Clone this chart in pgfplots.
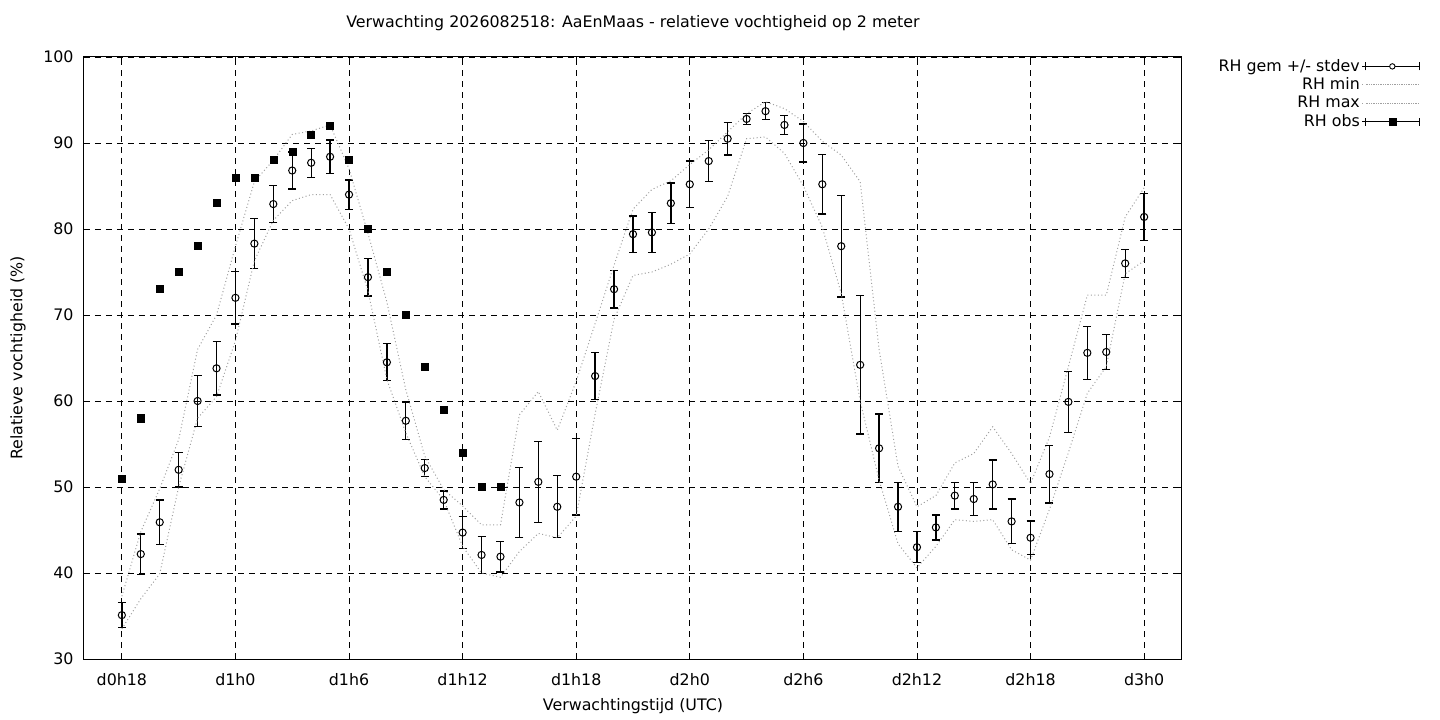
\documentclass[border=0pt]{standalone}
\usepackage{fontspec}
\setmainfont{DejaVu Sans}
\usepackage{pgfplots}
\pgfplotsset{compat=1.18}
\usepackage{pgfplotstable}

\pgfplotstableread{
h m sd
18 35.1 1.45
19 42.2 2.35
20 45.9 2.6
21 52.0 2.0
22 60.0 3.0
23 63.8 3.1
24 72.0 3.05
25 78.3 2.9
26 82.9 2.15
27 86.8 2.15
28 87.7 1.7
29 88.4 1.95
30 84.0 1.7
31 74.4 2.2
32 64.5 2.15
33 57.7 2.2
34 52.2 1.0
35 48.5 1.05
36 44.7 1.85
37 42.1 2.15
38 41.9 1.8
39 48.2 4.1
40 50.6 4.7
41 47.7 3.6
42 51.2 4.45
43 62.9 2.75
44 73.0 2.2
45 79.4 2.1
46 79.6 2.3
47 83.0 2.35
48 85.2 2.7
49 87.9 2.4
50 90.5 1.9
51 92.8 0.65
52 93.7 1.0
53 92.1 1.1
54 90.0 2.2
55 85.2 3.45
56 78.0 5.9
57 64.2 8.05
58 54.5 4.0
59 47.7 2.85
60 43.0 1.8
61 45.3 1.45
62 49.0 1.55
63 48.6 1.95
64 50.3 2.85
65 46.0 2.6
66 44.1 1.95
67 51.5 3.35
68 59.9 3.55
69 65.6 3.1
70 65.7 2.05
71 76.0 1.65
72 81.4 2.75
}\meantab

\pgfplotstableread{
h lo hi
18 33.5 37.3
19 37.0 44.8
20 39.9 49.8
21 50.0 55.5
22 58.0 66.0
23 60.5 70.0
24 67.0 78.0
25 76.3 85.5
26 81.0 88.0
27 83.3 91.0
28 84.0 91.4
29 84.0 92.1
30 80.0 87.0
31 72.8 79.5
32 62.5 71.5
33 56.3 61.3
34 51.2 53.6
35 48.5 49.7
36 43.1 47.8
37 40.0 45.6
38 39.5 45.6
39 42.5 58.4
40 44.6 61.1
41 44.1 56.6
42 46.6 62.3
43 58.5 69.0
44 69.5 75.8
45 74.6 82.3
46 75.0 84.6
47 75.9 85.6
48 77.1 87.5
49 80.0 89.2
50 83.8 91.3
51 90.5 93.4
52 90.7 94.8
53 88.8 94.0
54 85.0 92.5
55 80.2 90.2
56 72.5 88.6
57 60.0 85.5
58 50.8 66.0
59 43.4 52.4
60 40.6 47.7
61 43.1 49.0
62 46.2 52.8
63 46.0 53.9
64 46.2 57.0
65 42.7 53.9
66 41.5 50.4
67 47.4 55.8
68 54.0 64.0
69 60.9 72.3
70 64.0 72.3
71 74.8 81.4
72 76.3 84.8
}\mmtab

\pgfplotstableread{
h o
18 51
19 58
20 73
21 75
22 78
23 83
24 86
25 86
26 88
27 89
28 91
29 92
30 88
31 80
32 75
33 70
34 64
35 59
36 54
37 50
38 50
}\obstab

\definecolor{mmgray}{RGB}{160,160,160}

\begin{document}
\fontsize{15.9}{18}\selectfont
\begin{tikzpicture}
\path[use as bounding box] (-84bp,-61bp) rectangle (1356bp,659bp);
\begin{axis}[
  at={(0,0)}, anchor=south west,
  scale only axis, width=1098bp, height=602bp,
  xmin=16, xmax=74, ymin=30, ymax=100,
  xtick={18,24,...,72},
  xticklabels={d0h18,d1h0,d1h6,d1h12,d1h18,d2h0,d2h6,d2h12,d2h18,d3h0},
  ytick={30,40,...,100},
  grid=major,
  major grid style={black, line width=0.9bp, dash pattern=on 6bp off 5bp},
  axis line style={black, line width=1bp},
  tick style={black, line width=0.9bp},
  major tick length=6bp,
  tick align=inside,
  /pgf/number format/assume math mode=true,
  ticklabel style={font=\fontsize{15.9}{18}\selectfont},
  yticklabel style={xshift=-5bp},
  xticklabel style={yshift=-9bp},
  title={Verwachting 2026082518: AaEnMaas - relatieve vochtigheid op 2 meter},
  title style={at={(axis description cs:0.5,1.0465)}, anchor=center, font=\fontsize{15.9}{18}\selectfont},
  xlabel={Verwachtingstijd (UTC)},
  xlabel style={at={(axis description cs:0.5,-0.078)}, anchor=center, font=\fontsize{15.9}{18}\selectfont},
  ylabel={Relatieve vochtigheid (\%)},
  ylabel style={at={(axis description cs:-0.0601,0.5)}, anchor=center, rotate=0, font=\fontsize{15.9}{18}\selectfont},
  legend plot pos=right,
  legend cell align=right,
  legend style={at={(axis description cs:1.2168,1.0)}, anchor=north east, draw=none, fill=none,
    font=\fontsize{15.9}{18}\selectfont, row sep=0.2bp, inner sep=0pt},
]
\addplot[black, only marks, mark=o, mark size=3.6bp,
  mark options={fill=white, line width=1bp, solid},
  error bars/.cd, y dir=both, y explicit,
  error bar style={line width=1.3bp, black},
  error mark options={rotate=90, mark size=4bp, line width=1.3bp, black},
  /pgfplots/legend image code/.code={
    \path (-3bp,0bp) -- (54bp,0bp);
    \draw[black, line width=1bp, solid] (0bp,0bp) -- (54bp,0bp);
    \draw[black, line width=1bp, solid] (0bp,-4bp) -- (0bp,4bp) (54bp,-4bp) -- (54bp,4bp);
    \draw[black, fill=white, line width=0.9bp, solid] (27bp,0bp) circle (2.7bp);},
  ]
  table[x=h, y=m, y error=sd] {\meantab};
\addlegendentry{RH gem +/- stdev}
\addplot[mmgray, line width=1bp, dash pattern=on 1bp off 2.5bp,
  legend image code/.code={
    \path (-3bp,0bp) -- (54bp,0bp);
    \draw[mmgray, line width=1bp, dash pattern=on 1bp off 2.5bp] (2bp,0bp) -- (52bp,0bp);}]
  table[x=h, y=lo] {\mmtab};
\addlegendentry{RH min}
\addplot[mmgray, line width=1bp, dash pattern=on 1bp off 2.5bp,
  legend image code/.code={
    \path (-3bp,0bp) -- (54bp,0bp);
    \draw[mmgray, line width=1bp, dash pattern=on 1bp off 2.5bp] (2bp,0bp) -- (52bp,0bp);}]
  table[x=h, y=hi] {\mmtab};
\addlegendentry{RH max}
\addplot[black, only marks, mark=square*, mark size=3.5bp,
  legend image code/.code={
    \path (-3bp,0bp) -- (54bp,0bp);
    \draw[black, line width=1bp, dash pattern=on 4bp off 4bp on 1bp off 4bp] (0bp,0bp) -- (54bp,0bp);
    \draw[black, line width=1bp, solid] (0bp,-4bp) -- (0bp,4bp) (54bp,-4bp) -- (54bp,4bp);
    \fill[black] (23.5bp,-3.5bp) rectangle (30.5bp,3.5bp);}]
  table[x=h, y=o] {\obstab};
\addlegendentry{RH obs}
\end{axis}
\end{tikzpicture}
\end{document}
